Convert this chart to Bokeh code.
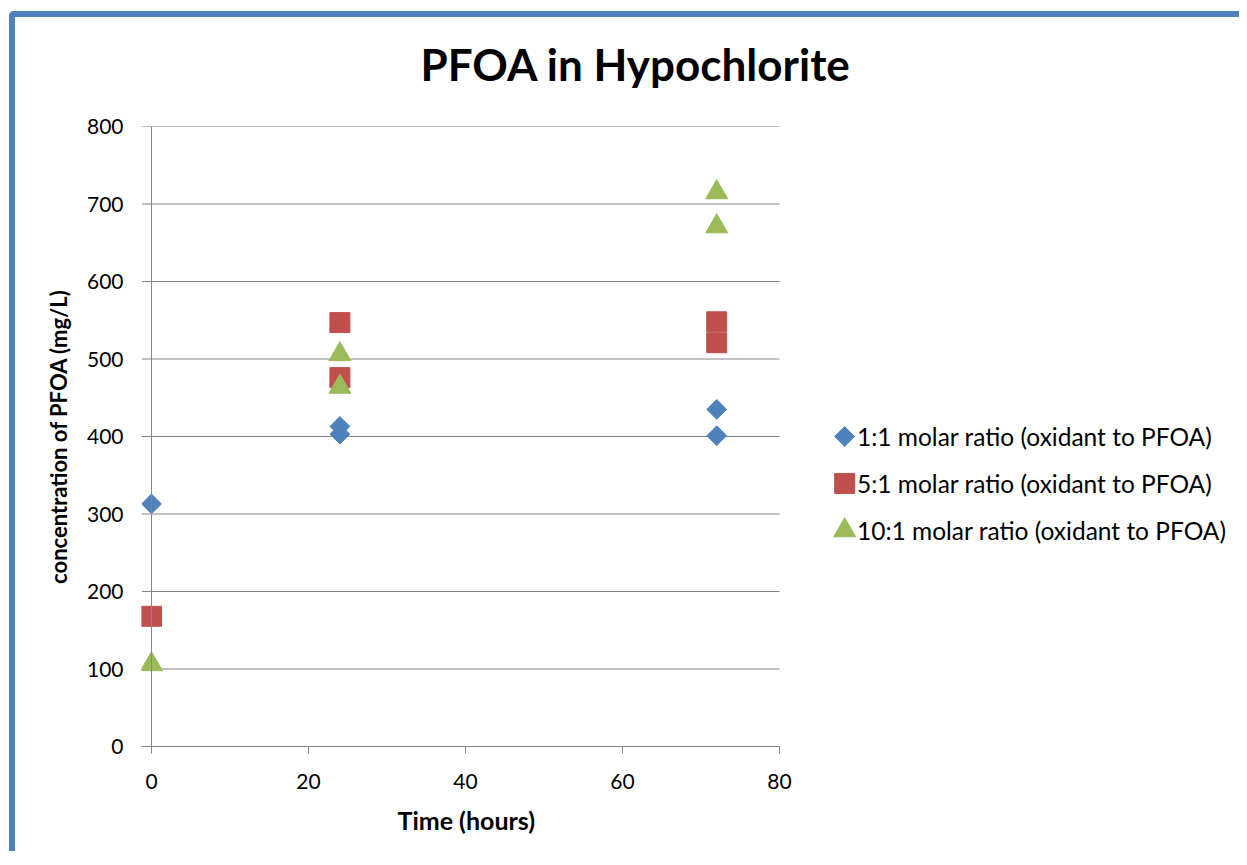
import math
from bokeh.plotting import figure
from bokeh.models import Legend, LegendItem, Range1d, FixedTicker, Title, Span
from bokeh.embed import file_html
from bokeh.resources import INLINE

# data
t_11 = [0, 24, 24, 72, 72]
c_11 = [313, 413, 403, 435, 401]
t_51 = [0, 24, 24, 72, 72]
c_51 = [168, 547, 476, 548, 521]
t_101 = [0, 24, 24, 72, 72]
c_101 = [106, 506, 464, 715, 671]
labels = ["1:1 molar ratio (oxidant to PFOA)",
          "5:1 molar ratio (oxidant to PFOA)",
          "10:1 molar ratio (oxidant to PFOA)"]
x_ticks = [0, 20, 40, 60, 80]
y_ticks = [0, 100, 200, 300, 400, 500, 600, 700, 800]

FONT = "Lato"
GRAY = "#868686"
BLUE, RED, GREEN = "#4f81bd", "#c0504d", "#9bbb59"

# frame spans past the axis so the legend sits inside it
X_LO, X_HI = -1.274, 139.36

p = figure(width=1230, height=840, output_backend="svg", toolbar_location=None,
           x_range=Range1d(X_LO, X_HI), y_range=Range1d(0, 800),
           min_border_left=126, min_border_top=109, min_border_right=0,
           min_border_bottom=111)
p.styles = {"border-top": "6px solid #4f81bd", "border-left": "6px solid #4f81bd",
            "border-top-left-radius": "5px", "margin-left": "9px", "margin-top": "11px"}
p.outline_line_color = None
p.background_fill_color = "white"
p.border_fill_color = "white"
p.title.text = ""
p.title.standoff = 0

# spacer (nearest the plot area), then the title above it
p.add_layout(Title(text="\u00a0", text_color="white", text_font_size="1px", standoff=34), "above")
p.add_layout(Title(text="PFOA in Hypochlorite", align="left", offset=279,
                   text_font=FONT, text_font_size="44px", text_font_style="bold",
                   text_color="black", standoff=0), "above")

# gridlines (plot area ends at x=80)
p.xgrid.grid_line_color = None
p.ygrid.grid_line_color = None
p.segment(x0=[X_LO] * len(y_ticks), y0=y_ticks, x1=[80] * len(y_ticks), y1=y_ticks,
          line_color=GRAY, line_width=1)
p.add_layout(Span(location=0, dimension="height", line_color=GRAY, line_width=1))

r1 = p.scatter(t_11, c_11, marker="square", size=14, angle=math.pi / 4, color=BLUE)
r2 = p.scatter(t_51, c_51, marker="square", size=20, color=RED)
r3 = p.scatter(t_101, c_101, marker="triangle", size=22, color=GREEN)

p.xaxis.ticker = FixedTicker(ticks=x_ticks)
p.yaxis.ticker = FixedTicker(ticks=y_ticks)
for ax in (p.xaxis[0], p.yaxis[0]):
    ax.major_tick_line_color = GRAY
    ax.major_tick_in = 0
    ax.minor_tick_line_color = None
    ax.major_label_text_font = FONT
    ax.major_label_text_font_size = "21px"
    ax.major_label_text_color = "black"
    ax.axis_label_text_font = FONT
    ax.axis_label_text_font_style = "bold"
    ax.axis_label_text_color = "black"
p.xaxis.bounds = (X_LO, 80)
p.xaxis.axis_line_color = GRAY
p.xaxis.major_tick_out = 7
p.xaxis.major_label_standoff = 20
p.yaxis.axis_line_color = None
p.yaxis.major_tick_out = 0
p.yaxis.axis_label = "concentration of PFOA (mg/L)"
p.yaxis.axis_label_text_font_size = "22px"
p.yaxis.major_label_standoff = 18
p.yaxis.axis_label_standoff = 12

# x-axis title, centred under the plot area
p.add_layout(Title(text="Time (hours)", align="left", offset=256,
                   text_font=FONT, text_font_size="25px", text_font_style="bold",
                   text_color="black", standoff=22), "below")

# legend: glyph markers drawn beside the legend text (legend glyph box kept empty)
LEG_X = 88.3
LEG_Y = [400, 339.4, 278.8]
p.scatter([LEG_X], [LEG_Y[0]], marker="square", size=14, angle=math.pi / 4, color=BLUE)
p.scatter([LEG_X], [LEG_Y[1]], marker="square", size=20, color=RED)
p.scatter([LEG_X], [LEG_Y[2]], marker="triangle", size=22, color=GREEN)
d1 = p.scatter([], [], marker="square", size=1, fill_alpha=0, line_alpha=0)
d2 = p.scatter([], [], marker="square", size=1, fill_alpha=0, line_alpha=0)
d3 = p.scatter([], [], marker="square", size=1, fill_alpha=0, line_alpha=0)

legend = Legend(items=[LegendItem(label=labels[0], renderers=[d1]),
                       LegendItem(label=labels[1], renderers=[d2]),
                       LegendItem(label=labels[2], renderers=[d3])],
                location=(714, 201), orientation="vertical",
                label_text_font=FONT, label_text_font_size="24.5px",
                label_text_color="black", glyph_height=20, glyph_width=2,
                label_height=30, spacing=17, padding=0, margin=0,
                label_standoff=0, border_line_color=None,
                background_fill_alpha=0)
p.add_layout(legend, "center")

open("out.html", "w").write(file_html(p, INLINE))
